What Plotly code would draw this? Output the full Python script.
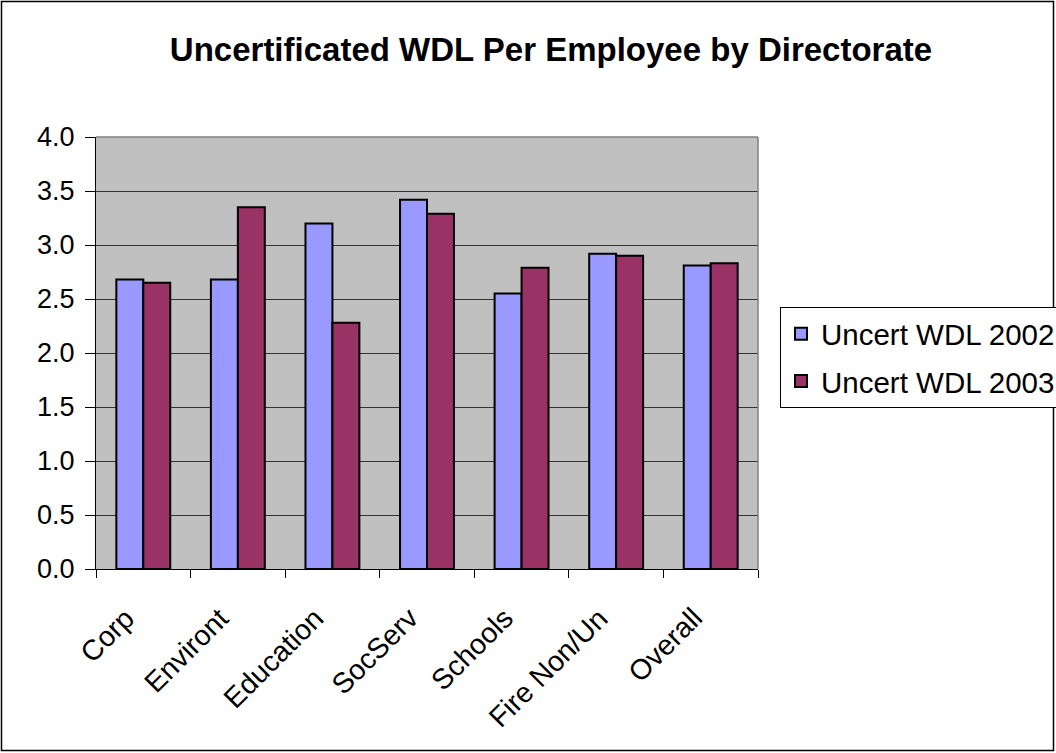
import plotly.graph_objects as go

categories = ["Corp", "Environt", "Education", "SocServ", "Schools", "Fire Non/Un", "Overall"]
wdl_2002 = [2.68, 2.68, 3.20, 3.42, 2.55, 2.92, 2.81]
wdl_2003 = [2.65, 3.35, 2.28, 3.29, 2.79, 2.90, 2.83]
y_ticks = [0.0, 0.5, 1.0, 1.5, 2.0, 2.5, 3.0, 3.5, 4.0]

W, H = 1056, 753
L, R, T, B = 96, 298, 137, 184
pw, ph = W - L - R, H - T - B


def px_x(x):
    return (x - L) / pw


def px_y(y):
    return (H - B - y) / ph


FONT = "Liberation Sans, Arial, sans-serif"

fig = go.Figure()
fig.add_trace(go.Bar(
    x=categories, y=wdl_2002, name="Uncert WDL 2002", legendgroup="a",
    marker=dict(color="#9999FF", line=dict(color="#000000", width=2)),
))
fig.add_trace(go.Bar(
    x=categories, y=wdl_2003, name="Uncert WDL 2003", legendgroup="b",
    marker=dict(color="#993366", line=dict(color="#000000", width=2)),
))

fig.update_layout(
    width=W, height=H,
    margin=dict(l=L, r=R, t=T, b=B, autoexpand=False),
    paper_bgcolor="white",
    plot_bgcolor="#C0C0C0",
    barmode="group",
    bargap=0.43,
    bargroupgap=0,
    font=dict(family=FONT, color="black"),
    title=dict(
        text="<b>Uncertificated WDL Per Employee by Directorate</b>",
        x=px_x(551), xref="paper", xanchor="center",
        y=1 - 49 / H, yanchor="middle",
        font=dict(size=33, family=FONT, color="black"),
    ),
    legend=dict(
        x=px_x(780), y=px_y(307), xanchor="left", yanchor="top",
        bordercolor="#000000", borderwidth=1, bgcolor="white",
        font=dict(size=29.5, family=FONT, color="black"),
        tracegroupgap=6,
    ),
    showlegend=True,
)

fig.update_xaxes(
    type="category",
    range=[-0.5, len(categories) - 0.5],
    showticklabels=False,
    ticks="outside", tickson="boundaries", ticklen=8, tickcolor="black",
    showline=True, linecolor="black", linewidth=1,
    showgrid=False, mirror=False,
)
fig.update_yaxes(
    range=[0, 4.0],
    tickvals=y_ticks,
    tickformat=".1f",
    tickfont=dict(size=27, family=FONT, color="black"),
    ticks="outside", ticklen=10, tickcolor="black",
    ticklabelstandoff=5,
    showline=True, linecolor="black", linewidth=1,
    showgrid=True, gridcolor="#333333", gridwidth=1,
    zeroline=False,
)

# slanted category labels, right end tucked just left of each group centre
for cat in categories:
    fig.add_annotation(
        x=cat, xref="x", y=0, yref="paper",
        text=cat, showarrow=False, textangle=-45,
        xanchor="right", yanchor="top", xshift=0, yshift=-30,
        font=dict(size=28.5, family=FONT, color="black"),
    )

# grey frame on top and right of the plot area
fig.add_shape(type="line", xref="paper", yref="paper", x0=0, x1=1, y0=1, y1=1,
              line=dict(color="#808080", width=1.5))
fig.add_shape(type="line", xref="paper", yref="paper", x0=1, x1=1, y0=0, y1=1,
              line=dict(color="#808080", width=1.5))

# outer chart border
fig.add_shape(type="rect", xref="paper", yref="paper",
              x0=px_x(1.5), x1=px_x(1053.5), y0=px_y(750.5), y1=px_y(1.5),
              line=dict(color="black", width=1.5), layer="above")

fig.write_html("out.html")
